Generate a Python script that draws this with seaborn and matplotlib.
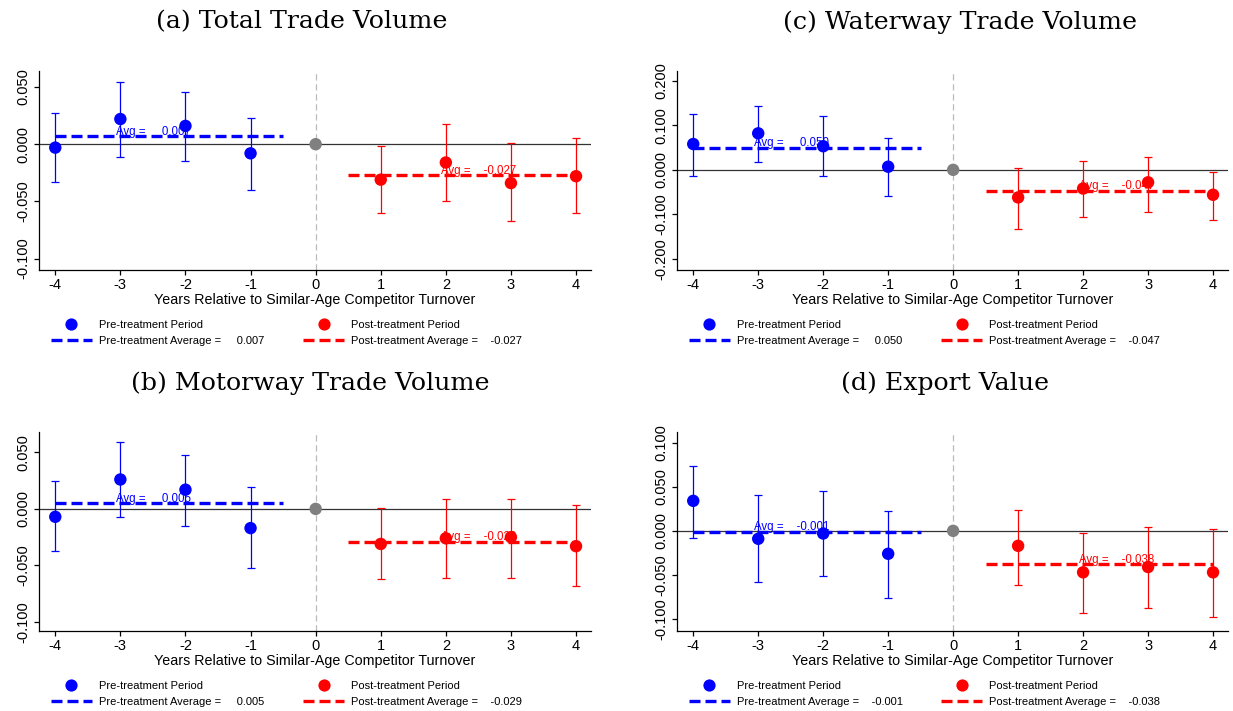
import numpy as np
import pandas as pd
import seaborn as sns
import matplotlib.pyplot as plt
from matplotlib.lines import Line2D
from matplotlib.ticker import FormatStrFormatter

# event-time coefficients
years = [-4, -3, -2, -1, 0, 1, 2, 3, 4]

total_coef = [-0.003, 0.022, 0.016, -0.008, 0.0, -0.031, -0.016, -0.034, -0.028]
total_lo = [-0.033, -0.011, -0.015, -0.040, 0.0, -0.060, -0.050, -0.067, -0.060]
total_hi = [0.027, 0.054, 0.046, 0.023, 0.0, -0.002, 0.018, 0.001, 0.005]

water_coef = [0.058, 0.082, 0.053, 0.007, 0.0, -0.062, -0.042, -0.028, -0.056]
water_lo = [-0.013, 0.017, -0.014, -0.059, 0.0, -0.132, -0.105, -0.094, -0.112]
water_hi = [0.126, 0.144, 0.120, 0.071, 0.0, 0.004, 0.019, 0.029, -0.005]

motor_coef = [-0.007, 0.026, 0.017, -0.017, 0.0, -0.031, -0.026, -0.025, -0.033]
motor_lo = [-0.037, -0.007, -0.015, -0.052, 0.0, -0.062, -0.061, -0.061, -0.068]
motor_hi = [0.025, 0.059, 0.048, 0.019, 0.0, 0.001, 0.009, 0.009, 0.003]

export_coef = [0.034, -0.009, -0.003, -0.026, 0.0, -0.017, -0.047, -0.041, -0.047]
export_lo = [-0.008, -0.058, -0.051, -0.076, 0.0, -0.061, -0.093, -0.088, -0.098]
export_hi = [0.074, 0.041, 0.045, 0.023, 0.0, 0.024, -0.002, 0.004, 0.002]

titles = ["(a) Total Trade Volume", "(c) Waterway Trade Volume",
          "(b) Motorway Trade Volume", "(d) Export Value"]
pre_avgs = [0.007, 0.050, 0.005, -0.001]
post_avgs = [-0.027, -0.047, -0.029, -0.038]

BLUE = "#0000ff"
RED = "#ff0000"
GREY = "#808080"

sns.set_theme(style="ticks")
plt.rcParams['font.family'] = ['Liberation Sans', 'DejaVu Sans']
plt.rcParams['axes.unicode_minus'] = False
plt.rcParams['text.color'] = 'black'
plt.rcParams['axes.labelcolor'] = 'black'
plt.rcParams['xtick.color'] = 'black'
plt.rcParams['ytick.color'] = 'black'

W, H = 1233, 711
fig = plt.figure(figsize=(W / 100, H / 100), dpi=100)


def add_axes(x0, y0, x1, y1):
    return fig.add_axes([x0 / W, 1 - y1 / H, (x1 - x0) / W, (y1 - y0) / H])


def draw(ax, coef, lo, hi, pre_avg, post_avg, ylim, yticks):
    df = pd.DataFrame({'year': years, 'coef': coef, 'lo': lo, 'hi': hi})
    df['period'] = np.where(df.year < 0, 'pre', np.where(df.year > 0, 'post', 'ref'))

    ax.axhline(0, color='#333333', lw=0.9, zorder=1)
    ax.axvline(0, color='#bbbbbb', lw=0.9, ls=(0, (5, 3)), zorder=1)

    for per, col in [('pre', BLUE), ('post', RED)]:
        d = df[df.period == per]
        ax.errorbar(d.year, d.coef, yerr=[d.coef - d.lo, d.hi - d.coef], fmt='none',
                    ecolor=col, elinewidth=0.9, capsize=3.2, capthick=0.9, zorder=2)

    ax.plot([-4, -0.5], [pre_avg, pre_avg], color=BLUE, lw=2.4, dashes=(3.3, 1.5), zorder=3)
    ax.plot([0.5, 4], [post_avg, post_avg], color=RED, lw=2.4, dashes=(3.3, 1.5), zorder=3)

    ax.annotate(f"Avg = {pre_avg:9.3f}", (-3.07, pre_avg), xytext=(0, 1),
                textcoords='offset points', color=BLUE, fontsize=8.3, va='baseline', zorder=4)
    ax.annotate(f"Avg = {post_avg:9.3f}", (1.93, post_avg), xytext=(0, 1),
                textcoords='offset points', color=RED, fontsize=8.3, va='baseline', zorder=4)

    sns.scatterplot(data=df, x='year', y='coef', hue='period',
                    palette={'pre': BLUE, 'post': RED, 'ref': GREY},
                    s=80, linewidth=0, legend=False, ax=ax, zorder=5)

    ax.set_xlim(-4.25, 4.23)
    ax.set_ylim(*ylim)
    ax.set_xticks(years)
    ax.set_yticks(yticks)
    ax.yaxis.set_major_formatter(FormatStrFormatter('%.3f'))
    ax.tick_params(axis='both', direction='out', length=3.6, width=0.9, color='black',
                   labelsize=10.5, pad=2.5)
    ax.tick_params(axis='y', labelrotation=90)
    plt.setp(ax.get_yticklabels(), va='center')
    for s in ['top', 'right']:
        ax.spines[s].set_visible(False)
    for s in ['left', 'bottom']:
        ax.spines[s].set_color('black')
        ax.spines[s].set_linewidth(0.9)
    ax.set_xlabel('Years Relative to Similar-Age Competitor Turnover', fontsize=10.3, labelpad=0.5)
    ax.set_ylabel('')


def add_legend(x_left, y_top, pre_avg, post_avg):
    for dx, col, name, avg in [(11.5, BLUE, 'Pre', pre_avg), (264, RED, 'Post', post_avg)]:
        handles = [Line2D([], [], marker='o', ls='none', color=col, markersize=8.8, markeredgewidth=0),
                   Line2D([], [], color=col, lw=2.4, dashes=(3.3, 1.5))]
        labels = [f'{name}-treatment Period', f'{name}-treatment Average = {avg:9.3f}']
        fig.legend(handles=handles, labels=labels, loc='upper left',
                   bbox_to_anchor=((x_left + dx) / W, 1 - y_top / H), frameon=False,
                   fontsize=8, handlelength=3.7, handletextpad=0.65, labelspacing=0.55,
                   borderpad=0, borderaxespad=0)


boxes = [(39, 71, 591, 270), (677, 71, 1228, 270), (39, 432, 591, 631), (677, 432, 1228, 631)]
title_pos = [(302, 22), (960, 22), (310, 383), (945, 383)]
series = [(total_coef, total_lo, total_hi), (water_coef, water_lo, water_hi),
          (motor_coef, motor_lo, motor_hi), (export_coef, export_lo, export_hi)]
ylims = [(-0.110, 0.064), (-0.225, 0.222), (-0.108, 0.068), (-0.1135, 0.112)]
yticks = [[-0.1, -0.05, 0, 0.05], [-0.2, -0.1, 0, 0.1, 0.2],
          [-0.1, -0.05, 0, 0.05], [-0.1, -0.05, 0, 0.05, 0.1]]

for i in range(4):
    ax = add_axes(*boxes[i])
    c, l, h = series[i]
    draw(ax, c, l, h, pre_avgs[i], post_avgs[i], ylims[i], yticks[i])
    add_legend(boxes[i][0], boxes[i][3] + 50, pre_avgs[i], post_avgs[i])
    fig.text(title_pos[i][0] / W, 1 - title_pos[i][1] / H, titles[i], ha='center', va='center',
             family='DejaVu Serif', fontsize=18.2)

fig.savefig('out.png', dpi=100)
